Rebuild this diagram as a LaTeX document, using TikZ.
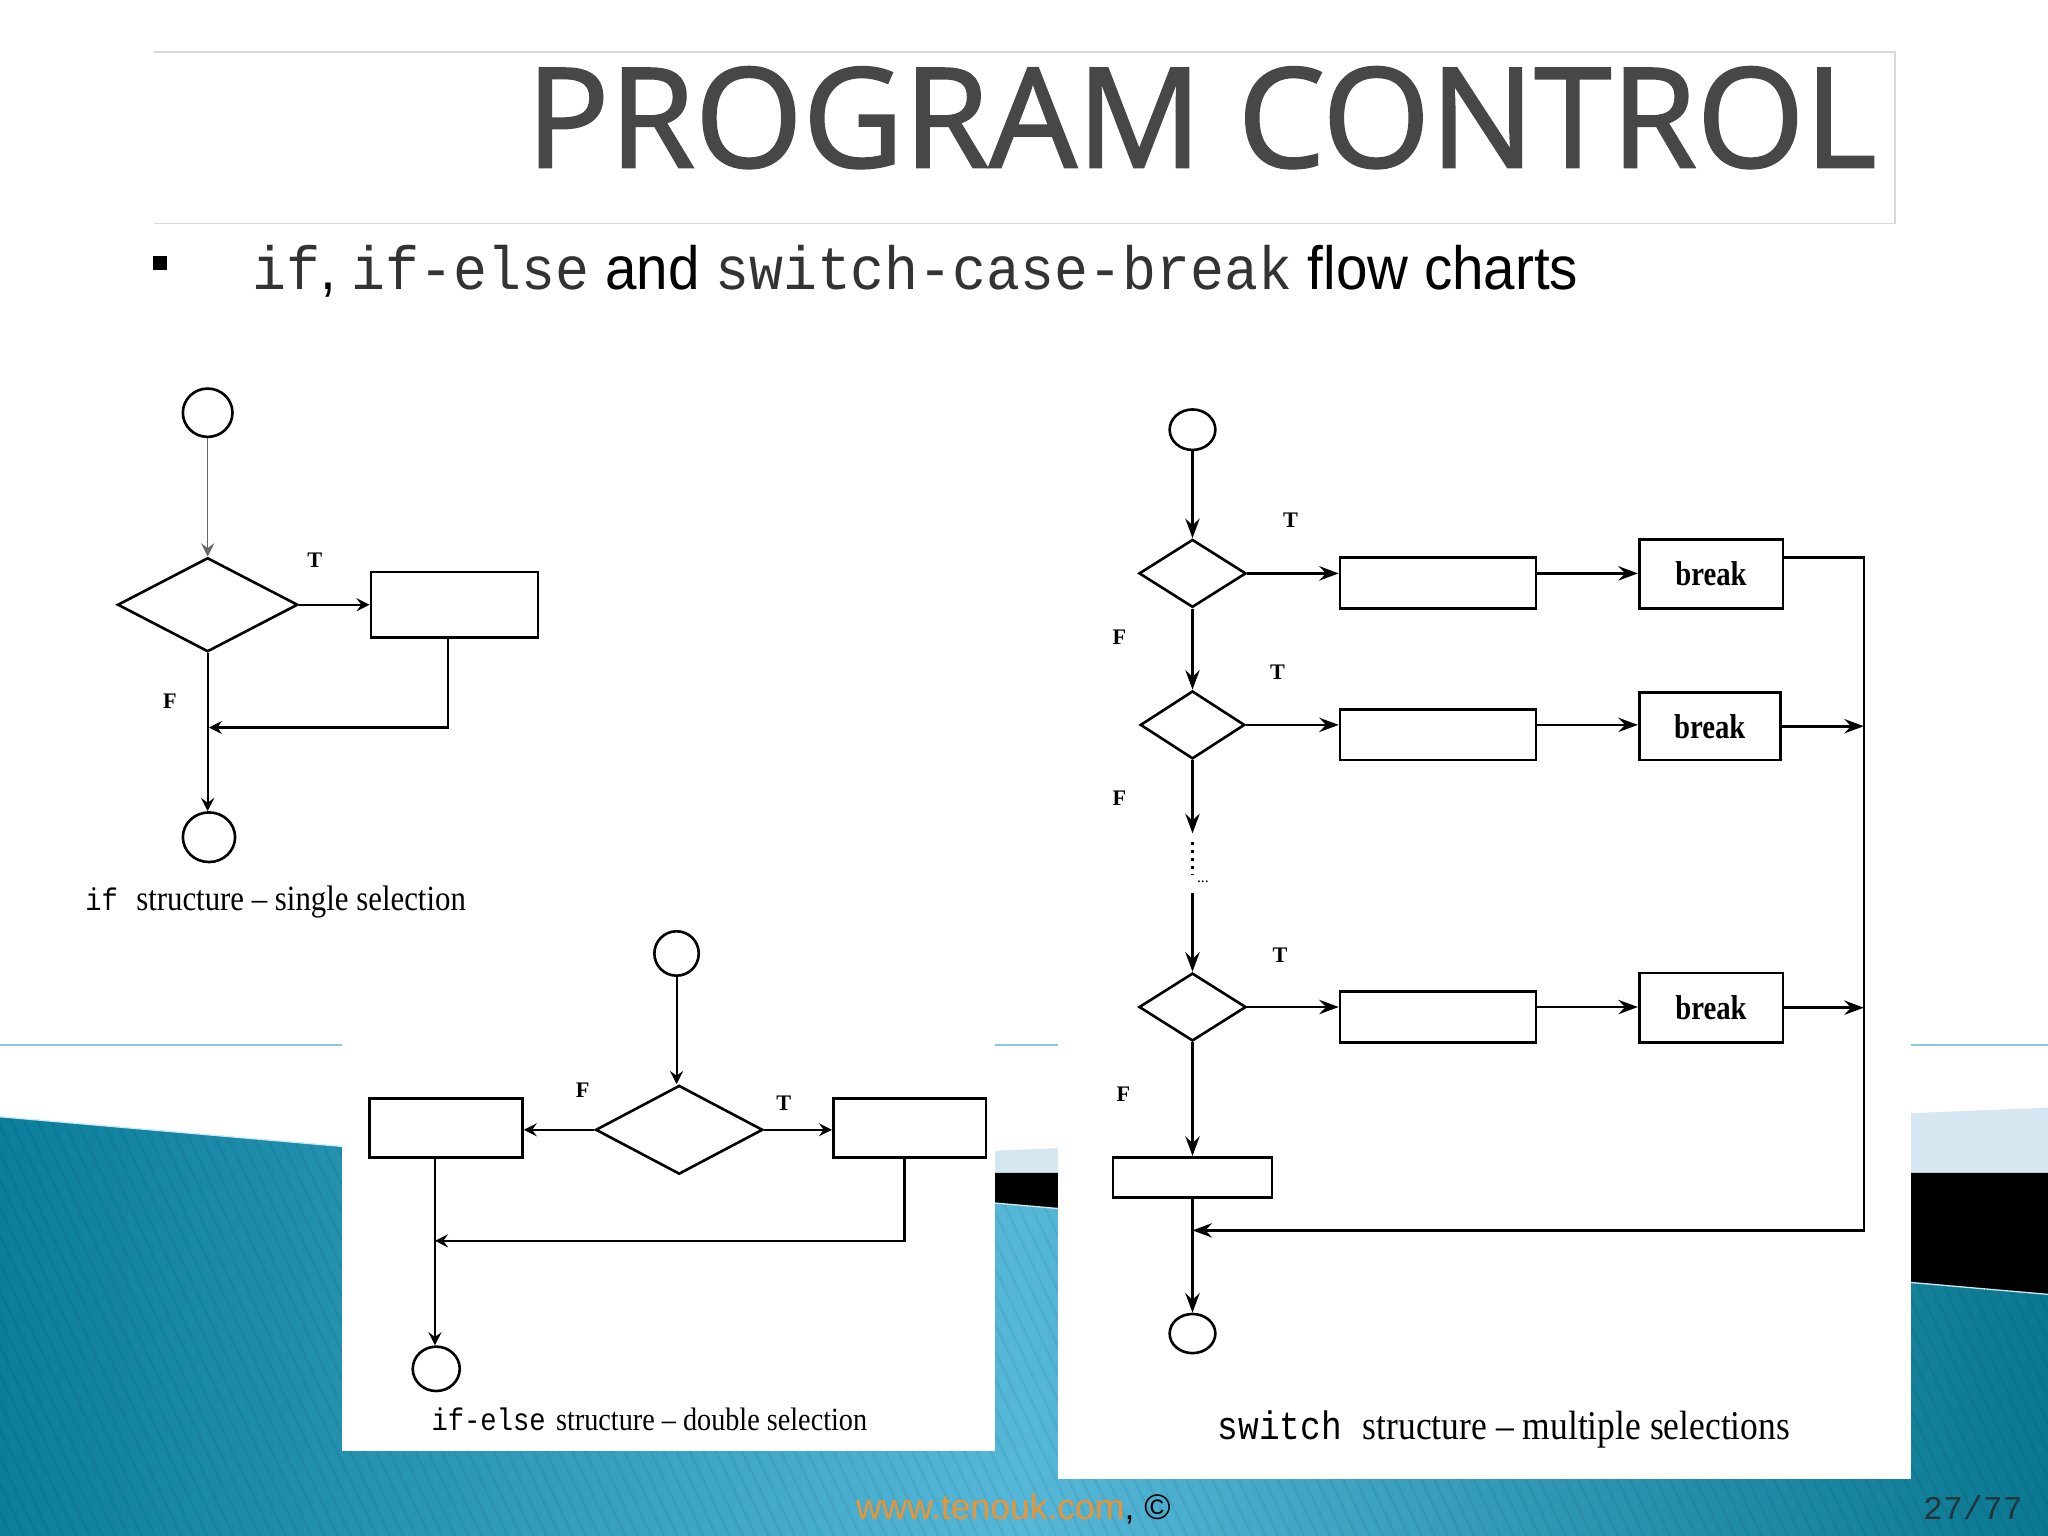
\documentclass[tikz,border=0pt]{standalone}
\usepackage{fontspec}
\setmainfont{Liberation Serif}
\setsansfont{Liberation Sans}
\setmonofont{Liberation Mono}
\newfontfamily\titlefont[FakeBold=1.6]{Open Sans}
\usetikzlibrary{shapes.geometric,arrows.meta}
\definecolor{titlegray}{HTML}{474747}
\definecolor{boxgray}{HTML}{D9D9D9}
\definecolor{lineblue}{HTML}{8CC7E0}
\definecolor{paleblue}{HTML}{D5E7F1}
\definecolor{tealL}{HTML}{0A7E9B}
\definecolor{tealM}{HTML}{56B8D9}
\definecolor{tealR}{HTML}{0A7891}
\definecolor{footorange}{HTML}{F0922E}
\definecolor{pagegray}{HTML}{24343A}
\definecolor{monogray}{HTML}{333333}
\begin{document}
\begin{tikzpicture}[x=0.5pt,y=-0.5pt,
  startend/.style={ellipse, draw, line width=1pt, inner sep=0pt, fill=white},
  decision/.style={diamond, draw, line width=1pt, inner sep=0pt, fill=white},
  actbox/.style={rectangle, draw, line width=1pt, inner sep=0pt, fill=white},
  brkbox/.style={rectangle, draw, line width=1pt, inner sep=0pt, fill=white,
    font=\fontsize{11}{12}\selectfont\bfseries},
  flowA/.style={-{Stealth[length=5pt,width=5pt,inset=1.8pt]}, line width=0.8pt},
  flowB/.style={-{Stealth[length=7.5pt,width=5.5pt,inset=2.6pt]}, line width=1pt},
  lbl/.style={font=\fontsize{8.5}{9}\selectfont\bfseries, inner sep=0pt},
  caption/.style={anchor=base west, inner sep=0pt}]

\useasboundingbox (0,0) rectangle (1568,1176);
\fill[white] (0,0) rectangle (1568,1176);

% ---------- slide background ----------
\draw[lineblue, line width=0.6pt] (0,800) -- (1568,800);
\shade[left color=tealL, right color=tealR, middle color=tealM]
  (0,855) -- (1568,991) -- (1568,1176) -- (0,1176) -- cycle;
\begin{scope}
  \clip (0,855) -- (1568,991) -- (1568,1176) -- (0,1176) -- cycle;
  \foreach \i in {-20,...,160}
    \draw[black, opacity=0.05, line width=1pt] ({\i*10},840) -- ++(170,360);
\end{scope}
\fill[paleblue] (347,898) -- (1568,848) -- (1568,898) -- cycle;
\fill[black] (496,898) -- (1568,898) -- (1568,991) -- cycle;
\draw[white!70!tealM, line width=0.5pt] (0,855) -- (1568,991);

% white picture panels
\fill[white] (262,700) rectangle (762,1111);
\fill[white] (810,290) rectangle (1463,1132);

% ---------- title ----------
\draw[boxgray, line width=0.6pt] (118,40) -- (1451,40) -- (1451,171) -- (118,171);
\node[anchor=base east, inner sep=0pt, text=titlegray,
  font=\titlefont\fontsize{53}{60}\selectfont] (title) at (1437,128) {PROGRAM CONTROL};

% ---------- bullet line ----------
\node[fill=black, minimum size=5.5pt, inner sep=0pt] (bullet) at (122.5,201.5) {};
\node[anchor=base west, inner sep=0pt] (sub) at (193,222)
  {\scalebox{1}[1.08]{\fontsize{21.65}{26}\selectfont{\ttfamily\color{monogray}if}{\sffamily, }{\ttfamily\color{monogray}if-else}{\sffamily\ and }{\ttfamily\color{monogray}switch-case-break}{\sffamily\ flow charts}}};

% ---------- if structure ----------
\node[startend, minimum width=19pt, minimum height=18.5pt] (s1) at (159,316) {};
\node[decision, minimum width=69pt, minimum height=36pt] (d1) at (159,463) {};
\node[actbox, minimum width=64pt, minimum height=25pt] (r1) at (348,463) {};
\node[startend, minimum width=20pt, minimum height=19pt] (e1) at (160,641) {};
\coordinate (j1) at (160,557);
\draw[flowA, draw=black!60, line width=0.6pt] (s1) -- (d1);
\draw[flowA] (d1.east) -- (d1.east -| r1.west);
\draw[flowA] ([xshift=-2.5pt]r1.south) |- (j1);
\draw[flowA] (d1.south) -- (d1.south |- e1.north);
\node[lbl] (t1) at (241,429) {T};
\node[lbl] (f1) at (130,537) {F};
\node[caption] (cap1) at (65,697)
  {\scalebox{1}[1.15]{{\ttfamily\fontsize{10.4}{12}\selectfont if}\hspace{7pt}{\fontsize{11.8}{13}\selectfont structure – single selection}}};

% ---------- if-else structure ----------
\node[startend, minimum width=17pt, minimum height=17pt] (s2) at (518,730) {};
\node[decision, minimum width=64pt, minimum height=34pt] (d2) at (520,865) {};
\node[actbox, minimum width=58.5pt, minimum height=22.5pt] (l2) at (341.5,863.5) {};
\node[actbox, minimum width=58.5pt, minimum height=22.5pt] (r2) at (696.5,863.5) {};
\node[startend, minimum width=18pt, minimum height=17pt] (e2) at (334,1048) {};
\coordinate (j2) at (333,950);
\draw[flowA] (s2.south) -- (s2.south |- d2.north);
\draw[flowA] (d2.west) -- (d2.west -| l2.east);
\draw[flowA] (d2.east) -- (d2.east -| r2.west);
\draw[flowA] ([xshift=-2pt]r2.south) |- (j2);
\draw[flowA] (l2.south -| j2) -- (j2 |- e2.north);
\node[lbl] (f2) at (446,835) {F};
\node[lbl] (t2) at (600,845) {T};
\node[caption] (cap2) at (330,1095)
  {\scalebox{1}[1.15]{{\ttfamily\fontsize{10.4}{12}\selectfont if-else}\hspace{4pt}{\fontsize{10.8}{12}\selectfont structure – double selection}}};

% ---------- switch structure ----------
\node[startend, minimum width=17.5pt, minimum height=15.5pt] (s3) at (913,329) {};
\node[decision, minimum width=41pt, minimum height=26pt] (d3a) at (913,439) {};
\node[actbox, minimum width=75pt, minimum height=19.5pt] (r3a) at (1101,446.5) {};
\node[brkbox, minimum width=55pt, minimum height=26.5pt] (b3a) at (1310,439.5) {\scalebox{1}[1.2]{break}};
\node[decision, minimum width=40pt, minimum height=26pt] (d3b) at (913,555) {};
\node[actbox, minimum width=75pt, minimum height=19.5pt] (r3b) at (1101,562.5) {};
\node[brkbox, minimum width=54pt, minimum height=26pt] (b3b) at (1309,556) {\scalebox{1}[1.2]{break}};
\node[decision, minimum width=41pt, minimum height=26pt] (d3c) at (913,771) {};
\node[actbox, minimum width=75pt, minimum height=19.5pt] (r3c) at (1101,778.5) {};
\node[brkbox, minimum width=55pt, minimum height=26.5pt] (b3c) at (1310,771.5) {\scalebox{1}[1.2]{break}};
\node[actbox, minimum width=61pt, minimum height=15.5pt] (r3d) at (913,901.5) {};
\node[startend, minimum width=17.5pt, minimum height=15pt] (e3) at (913,1021) {};
\coordinate (k1) at (1427,427);
\coordinate (k2) at (1427,942);
\coordinate (j3) at (913,942);
\coordinate (m1) at (913,638);
\coordinate (m2) at (913,645);
\coordinate (m3) at (913,670);
\coordinate (m4) at (913,684);

\draw[flowB] (s3) -- (d3a);
\draw[flowB] (d3a.east) -- (d3a.east -| r3a.west);
\draw[flowB] (d3a.east -| r3a.east) -- (d3a.east -| b3a.west);
\draw[flowB] (b3a.east |- k1) -- (k1) -- (k2) -- (j3);

\draw[flowB] (d3a) -- (d3b);
\draw[flowB] (d3b.east) -- (d3b.east -| r3b.west);
\draw[flowB] (d3b.east -| r3b.east) -- (d3b.east -| b3b.west);
\draw[flowB] (b3b.east) -- (b3b.east -| k1);

\draw[flowB] (d3b.south) -- (m1);
\draw[dotted, line width=1pt] (m2) -- (m3);
\node[inner sep=0pt, font=\fontsize{6}{6}\selectfont] (dots) at (921,675) {...};
\draw[flowB] (m4) -- (d3c.north);
\draw[flowB] (d3c.east) -- (d3c.east -| r3c.west);
\draw[flowB] (d3c.east -| r3c.east) -- (d3c.east -| b3c.west);
\draw[flowB] (b3c.east) -- (b3c.east -| k1);

\draw[flowB] (d3c) -- (r3d);
\draw[flowB] (r3d) -- (e3);

\node[lbl] (t3a) at (988,398) {T};
\node[lbl] (t3b) at (978,515) {T};
\node[lbl] (t3c) at (980,731) {T};
\node[lbl] (f3a) at (857,488) {F};
\node[lbl] (f3b) at (857,611) {F};
\node[lbl] (f3c) at (860,838) {F};
\node[caption] (cap3) at (932,1102)
  {\scalebox{1}[1.15]{{\ttfamily\fontsize{13.2}{15}\selectfont switch}\hspace{8pt}{\fontsize{13.6}{15}\selectfont structure – multiple selections}}};

% ---------- footer ----------
\node[anchor=base west, inner sep=0pt, font=\sffamily\fontsize{13.6}{15}\selectfont] (foot) at (655,1163)
  {\textcolor{footorange}{www.tenouk.com}, ©};
\node[anchor=base east, inner sep=0pt, text=pagegray, font=\ttfamily\fontsize{12.7}{14}\selectfont] (page) at (1549,1163) {27/77};
\end{tikzpicture}
\end{document}
